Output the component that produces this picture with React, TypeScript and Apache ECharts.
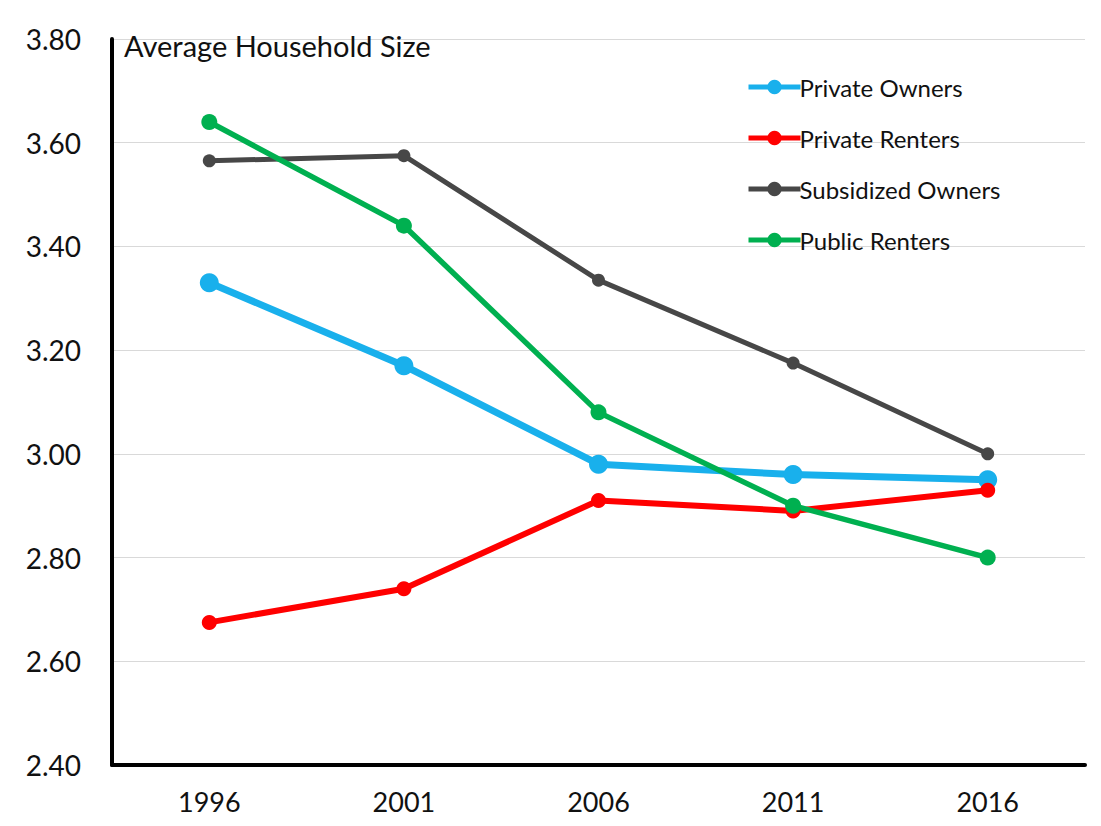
import React, { useEffect, useRef } from "react";
import * as echarts from "echarts";

const years = ["1996", "2001", "2006", "2011", "2016"];
const privateOwners = [3.33, 3.17, 2.98, 2.96, 2.95];
const privateRenters = [2.675, 2.74, 2.91, 2.89, 2.93];
const subsidizedOwners = [3.565, 3.575, 3.335, 3.175, 3.0];
const publicRenters = [3.64, 3.44, 3.08, 2.9, 2.8];

const FONT = "Lato, 'Noto Sans', sans-serif";

export default function App() {
  const ref = useRef<HTMLDivElement>(null);
  useEffect(() => {
    document.body.style.margin = "0";
    const chart = echarts.init(ref.current!, null, { renderer: "svg" });
    const mk = (name: string, data: number[], color: string, width: number, size: number) => ({
      name,
      type: "line",
      data,
      symbol: "circle",
      symbolSize: size,
      lineStyle: { color, width },
      itemStyle: { color },
      emphasis: { disabled: true },
    });
    chart.setOption({
      animation: false,
      backgroundColor: "#ffffff",
      textStyle: { fontFamily: FONT },
      title: {
        text: "Average Household Size",
        left: 119,
        top: 26,
        textStyle: { fontFamily: FONT, fontSize: 29, fontWeight: "normal", color: "#111" },
      },
      legend: {
        orient: "vertical",
        left: 741,
        top: 70,
        itemWidth: 52,
        itemHeight: 18,
        itemGap: 27,
        lineStyle: { width: 5 },
        textStyle: { fontFamily: FONT, fontSize: 24, color: "#111", lineHeight: 24, padding: [0, 0, 0, -6] },
        data: ["Private Owners", "Private Renters", "Subsidized Owners", "Public Renters"],
      },
      grid: { left: 112, right: 16, top: 39, bottom: 61, containLabel: false },
      xAxis: {
        type: "category",
        data: years,
        boundaryGap: true,
        axisLine: { lineStyle: { color: "#000", width: 4 } },
        axisTick: { show: false },
        axisLabel: { fontFamily: FONT, fontSize: 27, color: "#111", margin: 23 },
      },
      yAxis: {
        type: "value",
        min: 2.4,
        max: 3.8,
        interval: 0.2,
        axisLine: { show: true, lineStyle: { color: "#000", width: 4 } },
        axisTick: { show: false },
        axisLabel: {
          fontFamily: FONT,
          fontSize: 28,
          color: "#111",
          margin: 31,
          formatter: (v: number) => v.toFixed(2),
        },
        splitLine: { lineStyle: { color: "#d9d9d9", width: 1 } },
      },
      series: [
        mk("Private Owners", privateOwners, "#19b0ec", 7, 19),
        mk("Private Renters", privateRenters, "#ff0000", 6, 15),
        mk("Subsidized Owners", subsidizedOwners, "#474747", 5, 13),
        mk("Public Renters", publicRenters, "#00b050", 5.5, 16),
      ],
    });
    return () => chart.dispose();
  }, []);
  return <div ref={ref} style={{ width: 1101, height: 826 }} />;
}
